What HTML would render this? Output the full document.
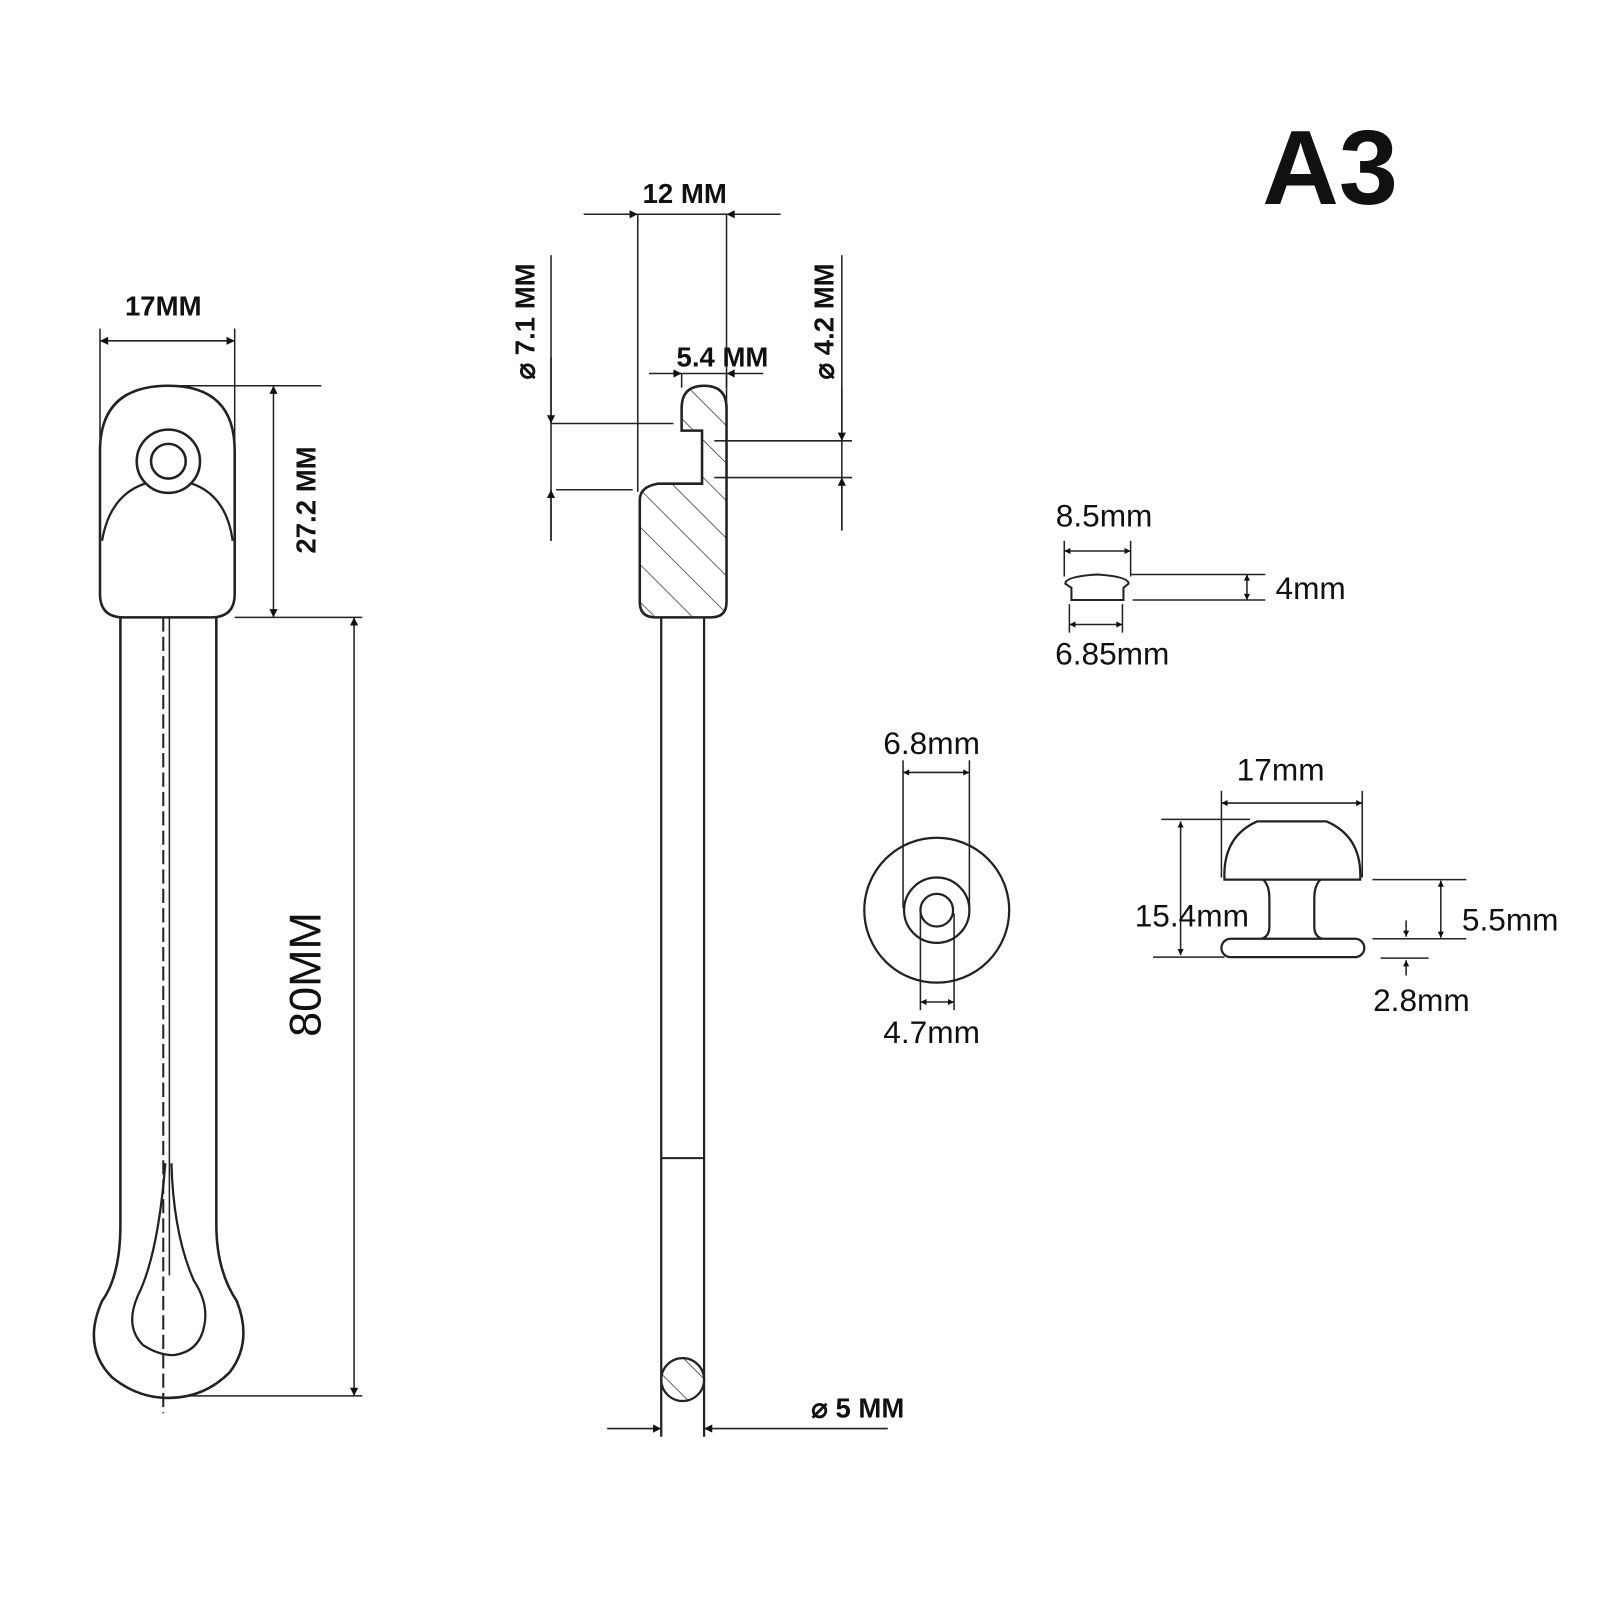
<!DOCTYPE html>
<html><head><meta charset="utf-8"><style>
html,body{margin:0;padding:0;background:#fff;}
svg{display:block;}
text{font-family:"Liberation Sans",sans-serif;fill:#111;}
.b{font-weight:bold;font-size:27px;}
.r{font-size:31px;}
</style></head><body>
<svg width="1600" height="1600" viewBox="0 0 1568 1568" xmlns="http://www.w3.org/2000/svg">
<defs>
<marker id="a" viewBox="0 0 10 10" refX="10" refY="5" markerWidth="14" markerHeight="8" markerUnits="userSpaceOnUse" orient="auto-start-reverse"><path d="M0,0L10,5L0,10Z" fill="#111"/></marker>
<marker id="s" viewBox="0 0 10 10" refX="10" refY="5" markerWidth="9" markerHeight="6" markerUnits="userSpaceOnUse" orient="auto-start-reverse"><path d="M0,0L10,5L0,10Z" fill="#111"/></marker>
<pattern id="h" patternUnits="userSpaceOnUse" width="26" height="26" patternTransform="rotate(-45)"><line x1="0" y1="0" x2="0" y2="26" stroke="#222" stroke-width="1.3"/></pattern>
</defs>
<g stroke="#222" stroke-width="1.5" fill="none">
<line x1="98" y1="322" x2="98" y2="430"/><line x1="230" y1="322" x2="230" y2="450"/>
<line x1="98" y1="334" x2="230" y2="334" marker-start="url(#a)" marker-end="url(#a)"/>
<path d="M98,582 L98,442 Q98,378 165,378 Q230,378 230,442 L230,582 Q230,605 207,605 L121,605 Q98,605 98,582Z" stroke-width="2.5"/>
<path d="M100,530 Q110,472 165,470 Q220,472 228,530" stroke-width="2.2"/>
<circle cx="165" cy="452" r="31" fill="#fff" stroke-width="2.5"/>
<circle cx="165" cy="452" r="17" stroke-width="2.5"/>
<line x1="165" y1="378" x2="315" y2="378"/>
<line x1="268" y1="378" x2="268" y2="605" marker-start="url(#a)" marker-end="url(#a)"/>
<line x1="230" y1="605" x2="355" y2="605"/>
<path d="M118,605 L118,1200 Q118,1250 100,1275 Q80,1320 110,1350 Q135,1370 165,1370 Q200,1370 225,1345 Q248,1315 232,1275 Q212,1245 212,1200 L212,605" stroke-width="2.5"/>
<path d="M162,1140 Q155,1230 135,1270 Q122,1300 140,1318 Q155,1328 170,1328 Q195,1325 200,1300 Q205,1278 190,1255 Q170,1210 168,1140" stroke-width="2.2"/>
<line x1="160" y1="605" x2="160" y2="1385" stroke-dasharray="14,5" stroke-width="2"/>
<line x1="166" y1="605" x2="166" y2="1250" stroke-width="1.5"/>
<line x1="347" y1="605" x2="347" y2="1368" marker-start="url(#a)" marker-end="url(#a)"/>
<line x1="180" y1="1368" x2="355" y2="1368"/>
<line x1="572" y1="210" x2="625" y2="210" marker-end="url(#a)"/>
<line x1="765" y1="210" x2="712" y2="210" marker-end="url(#a)"/>
<line x1="625" y1="210" x2="712" y2="210"/>
<line x1="625" y1="210" x2="625" y2="482"/><line x1="712" y1="210" x2="712" y2="412"/>
<line x1="636" y1="366" x2="668" y2="366" marker-end="url(#a)"/>
<line x1="748" y1="366" x2="712" y2="366" marker-end="url(#a)"/>
<line x1="668" y1="366" x2="712" y2="366"/>
<line x1="668" y1="366" x2="668" y2="380"/><line x1="712" y1="366" x2="712" y2="380"/>
<path d="M668,415 L668,400 Q668,378 690,378 Q712,378 712,400 L712,590 Q712,605 697,605 L642,605 Q627,605 627,590 L627,490 Q627,477 645,474 L688,474 L688,422 L668,422Z" fill="url(#h)" stroke-width="2.5"/>
<line x1="540" y1="250" x2="540" y2="530"/>
<line x1="540" y1="350" x2="540" y2="415" marker-end="url(#a)"/>
<line x1="540" y1="530" x2="540" y2="480" marker-end="url(#a)"/>
<line x1="540" y1="415" x2="660" y2="415"/><line x1="545" y1="480" x2="620" y2="480"/>
<line x1="825" y1="250" x2="825" y2="520"/>
<line x1="825" y1="380" x2="825" y2="432" marker-end="url(#a)"/>
<line x1="825" y1="520" x2="825" y2="468" marker-end="url(#a)"/>
<line x1="700" y1="432" x2="835" y2="432"/><line x1="700" y1="468" x2="835" y2="468"/>
<line x1="648" y1="605" x2="648" y2="1408" stroke-width="2.2"/>
<line x1="690" y1="605" x2="690" y2="1408" stroke-width="2.2"/>
<line x1="648" y1="1135" x2="690" y2="1135" stroke-width="2"/>
<circle cx="669" cy="1352" r="21" fill="url(#h)" stroke-width="2.2"/>
<line x1="595" y1="1400" x2="648" y2="1400" marker-end="url(#a)"/>
<line x1="870" y1="1400" x2="690" y2="1400" marker-end="url(#a)"/>
<line x1="1043" y1="530" x2="1043" y2="565"/><line x1="1108" y1="530" x2="1108" y2="565"/>
<line x1="1043" y1="540" x2="1108" y2="540" marker-start="url(#s)" marker-end="url(#s)"/>
<path d="M1044,572 Q1044,565 1075,563 Q1106,565 1106,572 L1101,576 L1101,588 L1050,588 L1050,576Z" stroke-width="2"/>
<line x1="1108" y1="563" x2="1240" y2="563"/><line x1="1110" y1="588" x2="1240" y2="588"/>
<line x1="1222" y1="563" x2="1222" y2="588" marker-start="url(#s)" marker-end="url(#s)"/>
<line x1="1048" y1="592" x2="1048" y2="620"/><line x1="1100" y1="592" x2="1100" y2="620"/>
<line x1="1048" y1="612" x2="1100" y2="612" marker-start="url(#s)" marker-end="url(#s)"/>
<circle cx="918" cy="892" r="71" stroke-width="2.2"/>
<circle cx="918" cy="892" r="32" stroke-width="2.2"/>
<circle cx="918" cy="892" r="16" stroke-width="2.2"/>
<line x1="885" y1="745" x2="885" y2="890"/><line x1="950" y1="745" x2="950" y2="890"/>
<line x1="885" y1="757" x2="950" y2="757" marker-start="url(#s)" marker-end="url(#s)"/>
<line x1="902" y1="895" x2="902" y2="990"/><line x1="935" y1="895" x2="935" y2="990"/>
<line x1="902" y1="982" x2="935" y2="982" marker-start="url(#s)" marker-end="url(#s)"/>
<line x1="1197" y1="775" x2="1197" y2="860"/><line x1="1335" y1="775" x2="1335" y2="860"/>
<line x1="1197" y1="787" x2="1335" y2="787" marker-start="url(#s)" marker-end="url(#s)"/>
<path d="M1200,862 Q1198,820 1232,805 L1300,805 Q1335,820 1333,862Z" stroke-width="2.2"/>
<path d="M1238,862 Q1244,868 1244,880 L1244,908 Q1244,918 1236,920 M1294,862 Q1288,868 1288,880 L1288,908 Q1288,918 1296,920" stroke-width="2.2"/>
<rect x="1197" y="920" width="140" height="18" rx="9" stroke-width="2.2"/>
<line x1="1138" y1="803" x2="1225" y2="803"/><line x1="1130" y1="938" x2="1200" y2="938"/>
<line x1="1157" y1="805" x2="1157" y2="936" marker-start="url(#s)" marker-end="url(#s)"/>
<line x1="1345" y1="862" x2="1437" y2="862"/><line x1="1345" y1="920" x2="1437" y2="920"/>
<line x1="1412" y1="863" x2="1412" y2="919" marker-start="url(#s)" marker-end="url(#s)"/>
<line x1="1353" y1="939" x2="1400" y2="939"/>
<line x1="1378" y1="902" x2="1378" y2="918" marker-end="url(#s)"/>
<line x1="1378" y1="956" x2="1378" y2="941" marker-end="url(#s)"/>
</g>
<text x="1237" y="200" font-size="104" font-weight="bold">A3</text>
<text class="b" x="160" y="309" text-anchor="middle">17MM</text>
<text class="b" transform="translate(309,490) rotate(-90)" text-anchor="middle">27.2 MM</text>
<text transform="translate(314,955) rotate(-90)" text-anchor="middle" font-size="44">80MM</text>
<text class="b" x="671" y="199" text-anchor="middle">12 MM</text>
<text class="b" x="708" y="359" text-anchor="middle">5.4 MM</text>
<text class="b" transform="translate(524,315) rotate(-90)" text-anchor="middle">⌀ 7.1 MM</text>
<text class="b" transform="translate(817,315) rotate(-90)" text-anchor="middle">⌀ 4.2 MM</text>
<text class="b" x="795" y="1389">⌀  5 MM</text>
<text class="r" x="1082" y="516" text-anchor="middle">8.5mm</text>
<text class="r" x="1250" y="587">4mm</text>
<text class="r" x="1090" y="651" text-anchor="middle">6.85mm</text>
<text class="r" x="913" y="739" text-anchor="middle">6.8mm</text>
<text class="r" x="913" y="1022" text-anchor="middle">4.7mm</text>
<text class="r" x="1255" y="765" text-anchor="middle">17mm</text>
<text class="r" x="1168" y="908" text-anchor="middle">15.4mm</text>
<text class="r" x="1480" y="912" text-anchor="middle">5.5mm</text>
<text class="r" x="1393" y="991" text-anchor="middle">2.8mm</text>
</svg>
</body></html>
